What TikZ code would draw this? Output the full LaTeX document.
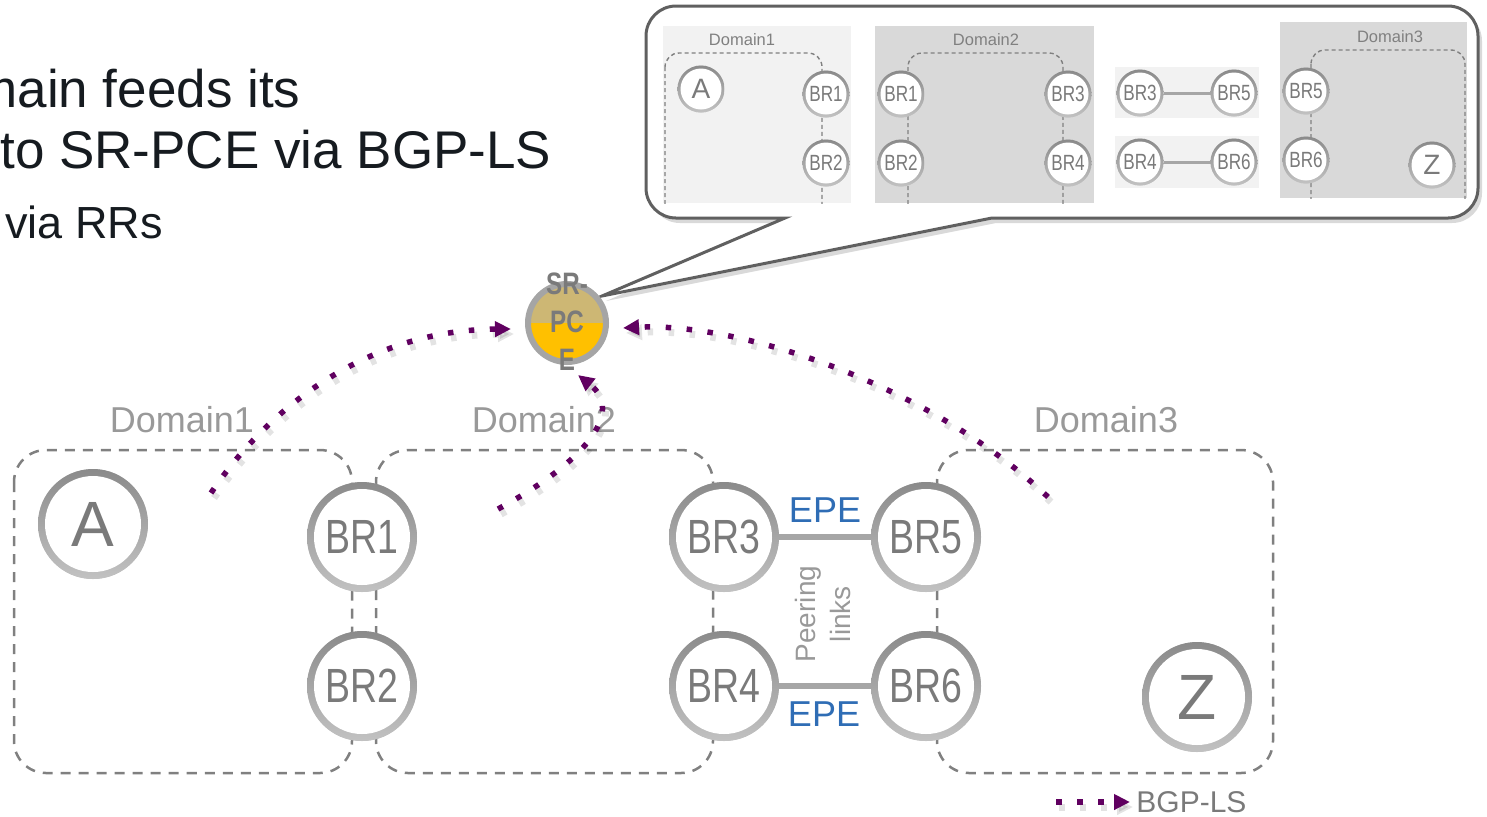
\documentclass[tikz,border=0pt]{standalone}
\usepackage{fontspec}
\setmainfont{Liberation Sans}
\newfontfamily\narrowfont[FakeStretch=0.78]{Liberation Sans}
\usetikzlibrary{arrows.meta,shadows}
\definecolor{ringtop}{HTML}{8A8A8A}
\definecolor{ringbot}{HTML}{C2C2C2}
\definecolor{nodetxt}{HTML}{7A7A7A}
\definecolor{domlbl}{HTML}{999999}
\definecolor{dashgray}{HTML}{808080}
\definecolor{bgppurple}{HTML}{600060}
\definecolor{epeblue}{HTML}{2F6DB5}
\definecolor{pcetop}{HTML}{CDB774}
\definecolor{pcebot}{HTML}{FFC000}
\definecolor{pcering}{HTML}{A5A5A5}
\definecolor{titletxt}{HTML}{161B20}
\definecolor{calloutline}{HTML}{606060}
\definecolor{panellight}{HTML}{F2F2F2}
\definecolor{paneldark}{HTML}{D9D9D9}
\definecolor{linkgray}{HTML}{A6A6A6}
\tikzset{
  ring/.style 2 args={circle, inner sep=0pt, minimum size=#1, text=nodetxt, fill=ringbot,
    path picture={
      \shade[top color=ringtop, bottom color=ringbot] (path picture bounding box.south west) rectangle (path picture bounding box.north east);
      \fill[white] (path picture bounding box.center) circle[radius=#2];
    }},
  bigbr/.style={ring={55pt}{24pt}, font=\narrowfont\fontsize{24pt}{28pt}\selectfont},
  bigletter/.style={ring={55pt}{24pt}, font=\fontsize{32pt}{36pt}\selectfont},
  smallbr/.style={ring={23.5pt}{10.25pt}, font=\narrowfont\fontsize{11pt}{13pt}\selectfont},
  smallletter/.style={ring={23.5pt}{10.25pt}, font=\fontsize{14pt}{16pt}\selectfont},
  domdash/.style={draw=dashgray, line width=1.25pt, dash pattern=on 5pt off 4pt, rounded corners=16pt},
  smalldash/.style={draw=dashgray, line width=0.7pt, dash pattern=on 2pt off 1.5pt, rounded corners=7pt},
  domlabel/.style={text=domlbl, font=\fontsize{18pt}{21pt}\selectfont, inner sep=0pt},
  smalllabel/.style={text=dashgray, font=\fontsize{8.25pt}{10pt}\selectfont, inner sep=0pt},
  titletext/.style={text=titletxt, anchor=base west, inner sep=0pt, font=\fontsize{26.5pt}{32pt}\selectfont},
  bgp/.style={draw=bgppurple, line width=2.75pt, dash pattern=on 2.75pt off 7.75pt,
    -{Triangle[length=8pt,width=7.5pt]}},
  bgpshadow/.style={bgp, draw=black, opacity=0.11, line width=3.5pt, transform canvas={shift={(1.5pt,-2.5pt)}}},
  peerlink/.style={draw=linkgray, line width=3pt},
  smalllink/.style={draw=linkgray, line width=1.5pt},
  epe/.style={text=epeblue, font=\fontsize{18pt}{21pt}\selectfont, inner sep=0pt},
}
\begin{document}
\begin{tikzpicture}[x=0.5pt,y=-0.5pt]
\useasboundingbox (0,0) rectangle (1487,816);
\clip (0,0) rectangle (1487,816);

% ---------- title text ----------
\node[titletext] (t1) at (-27,107) {main feeds its};
\node[titletext] (t2) at (0,168) {to SR-PCE via BGP-LS};
\node[titletext, font=\fontsize{22.5pt}{27pt}\selectfont] (t3) at (5,238) {via RRs};

% ---------- callout ----------
\draw[calloutline, line width=1.5pt, fill=white,
      drop shadow={shadow xshift=2pt, shadow yshift=-2.5pt, opacity=0.3}]
  (992,218) [rounded corners=15pt] -- (1478,218) -- (1478,6) -- (646,6) -- (646,218)
  [sharp corners] -- (785,218) -- (602,296) -- cycle;

% panel 1
\fill[panellight] (663,26) rectangle (851,203);
\begin{scope}
  \clip (663,26) rectangle (851,203);
  \draw[smalldash] (665,53) rectangle (822,218);
\end{scope}
\node[smalllabel] (p1lbl) at (742,40) {Domain1};
\node[smallletter] (pA) at (701,89) {A};
\node[smallbr] (p1br1) at (826,94) {BR1};
\node[smallbr] (p1br2) at (826,163) {BR2};

% panel 2
\fill[paneldark] (875,26) rectangle (1094,203);
\begin{scope}
  \clip (875,26) rectangle (1094,203);
  \draw[smalldash] (908,53) rectangle (1063,218);
\end{scope}
\node[smalllabel] (p2lbl) at (986,40) {Domain2};
\node[smallbr] (p2br1) at (901,94) {BR1};
\node[smallbr] (p2br2) at (901,163) {BR2};
\node[smallbr] (p2br3) at (1068,94) {BR3};
\node[smallbr] (p2br4) at (1068,163) {BR4};

% panel 3
\fill[panellight] (1115,67) rectangle (1259,118);
\fill[panellight] (1115,136) rectangle (1259,188);
\node[smallbr] (p3br3) at (1140,93) {BR3};
\node[smallbr] (p3br5) at (1234,93) {BR5};
\node[smallbr] (p3br4) at (1140,162) {BR4};
\node[smallbr] (p3br6) at (1234,162) {BR6};
\draw[smalllink] (p3br3) -- (p3br5);
\draw[smalllink] (p3br4) -- (p3br6);

% panel 4
\fill[paneldark] (1280,22) rectangle (1467,198);
\begin{scope}
  \clip (1280,22) rectangle (1467,198);
  \draw[smalldash] (1311,50) rectangle (1465,215);
\end{scope}
\node[smalllabel] (p4lbl) at (1390,37) {Domain3};
\node[smallbr] (p4br5) at (1306,91) {BR5};
\node[smallbr] (p4br6) at (1306,160) {BR6};
\node[smallletter] (pZ) at (1432,165) {Z};

% ---------- main domains ----------
\draw[domdash] (14,450) rectangle (352,773);
\draw[domdash] (376,450) rectangle (713,773);
\draw[domdash] (937,450) rectangle (1273,773);
\node[domlabel] (d1lbl) at (182,420) {Domain1};
\node[domlabel] (d2lbl) at (544,420) {Domain2};
\node[domlabel] (d3lbl) at (1106,420) {Domain3};

% ---------- main nodes ----------
\node[bigletter] (A) at (93,524) {A};
\node[bigbr] (br1) at (362,537) {BR1};
\node[bigbr] (br2) at (362,686) {BR2};
\node[bigbr] (br3) at (724,537) {BR3};
\node[bigbr] (br4) at (724,686) {BR4};
\node[bigbr] (br5) at (926,537) {BR5};
\node[bigbr] (br6) at (926,686) {BR6};
\node[bigletter] (Z) at (1197,697) {Z};

\draw[peerlink] (br3) -- (br5);
\draw[peerlink] (br4) -- (br6);
\node[epe] (epe1) at (825,510) {EPE};
\node[epe] (epe2) at (824,714) {EPE};
\node[rotate=90, align=center, text=domlbl, inner sep=0pt,
      font=\fontsize{14pt}{17.5pt}\selectfont] (peer) at (823,614) {Peering\\links};

% ---------- SR-PCE ----------
\node[circle, inner sep=0pt, minimum size=39pt, draw=pcering, line width=3pt, fill=pcebot,
      path picture={\fill[pcetop] (path picture bounding box.north west) rectangle (path picture bounding box.east);}]
  (pce) at (567,323) {};
\node[align=center, text=nodetxt, inner sep=0pt,
      font=\narrowfont\bfseries\fontsize{15.5pt}{19pt}\selectfont] (pcelbl) at (567,322) {SR-\\PC\\E};

% ---------- BGP-LS arrows ----------
\coordinate (b1s) at (211,493);
\coordinate (b1e) at (511,329);
\coordinate (b2s) at (498,509);
\coordinate (b2e) at (578,375);
\coordinate (b3s) at (1048,497);
\coordinate (b3e) at (623,328);
\coordinate (lgs) at (1056,802);
\coordinate (lge) at (1130,802);

\draw[bgpshadow] (b1s) .. controls (270,405) and (370,330) .. (b1e);
\draw[bgpshadow] (b2s) .. controls (585,462) and (625,412) .. (b2e);
\draw[bgpshadow] (b3s) .. controls (930,385) and (740,322) .. (b3e);
\draw[bgpshadow] (lgs) -- (lge);

\draw[bgp] (b1s) .. controls (270,405) and (370,330) .. (b1e);
\draw[bgp] (b2s) .. controls (585,462) and (625,412) .. (b2e);
\draw[bgp] (b3s) .. controls (930,385) and (740,322) .. (b3e);
\draw[bgp] (lgs) -- (lge);
\node[anchor=west, inner sep=0pt, text=nodetxt, font=\fontsize{15pt}{18pt}\selectfont] (leglbl) at (1136,802) {BGP-LS};
\end{tikzpicture}
\end{document}
